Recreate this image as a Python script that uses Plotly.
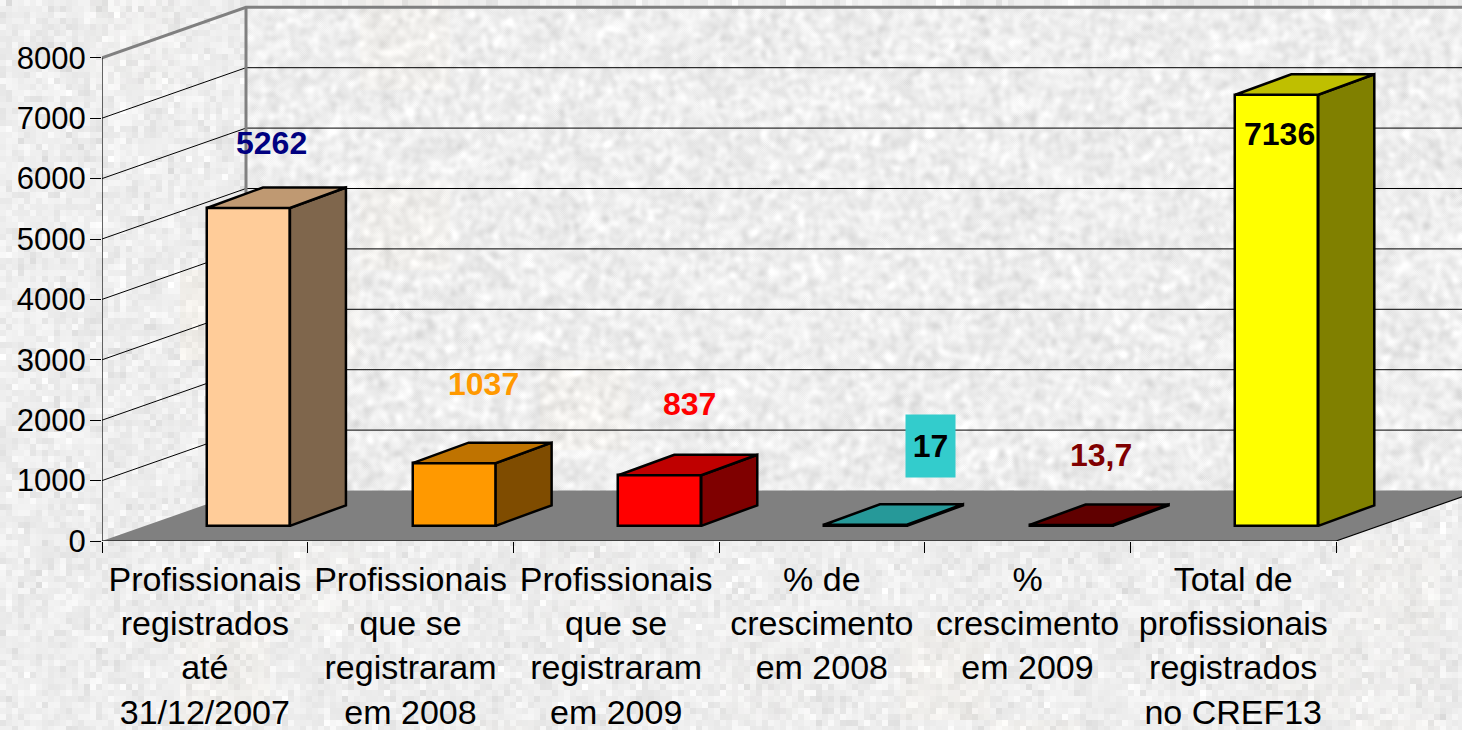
import base64, struct, zlib
import numpy as np
import plotly.graph_objects as go

# ---- data
categories = ["Profissionais<br>registrados<br>até<br>31/12/2007",
              "Profissionais<br>que se<br>registraram<br>em 2008",
              "Profissionais<br>que se<br>registraram<br>em 2009",
              "% de<br>crescimento<br>em 2008",
              "%<br>crescimento<br>em 2009",
              "Total de<br>profissionais<br>registrados<br>no CREF13"]
values = [5262, 1037, 837, 17, 13.7, 7136]
value_labels = ["5262", "1037", "837", "17", "13,7", "7136"]
y_ticks = [0, 1000, 2000, 3000, 4000, 5000, 6000, 7000, 8000]

# ---- styles
front_colors = ["#FFCC99", "#FF9900", "#FF0000", "#33CCCC", "#800000", "#FFFF00"]
side_colors = ["#7F664C", "#7F4C00", "#7F0000", "#199999", "#400000", "#808000"]
top_colors = ["#BF9972", "#BF7300", "#BF0000", "#269999", "#600000", "#BFBF00"]
label_colors = ["#000080", "#FF9900", "#FF0000", "#000000", "#800000", "#000000"]

W, H = 1462, 730
ML, MB = 102, 189
PX_PER_CAT = 205.67
PX_PER_VAL = 0.0604
WALL_DX, WALL_DY = 144 / PX_PER_CAT, 50.5 / PX_PER_VAL
BAR_DX, BAR_DY = 56 / PX_PER_CAT, 20.5 / PX_PER_VAL
BAR_W = 83 / PX_PER_CAT
BAR_CENTER = 0.712
BAR_BASE = 15.2 / PX_PER_VAL
# label offset from the front-top centre of each bar, in px
label_dx = [23, 29, 30, 65, 30, 3]
label_dy = [-65, -79, -71, -80, -70, 39]

X_MAX = (W - ML) / PX_PER_CAT
Y_MAX = (H - MB) / PX_PER_VAL


def texture():
    rng = np.random.default_rng(13)
    def blocks(size, h, w):
        a = rng.normal(0, 1, (h // size + 2, w // size + 2))
        return np.repeat(np.repeat(a, size, 0), size, 1)[:h, :w]
    img = 238 + 5.5 * blocks(6, H, W) + 2 * blocks(18, H, W)
    fine = rng.normal(0, 1, (H, W))
    for _ in range(3):
        fine = (np.roll(fine, 1, 0) + np.roll(fine, -1, 0) + np.roll(fine, 1, 1)
                + np.roll(fine, -1, 1) + fine) / 5
        fine = (np.roll(fine, 2, 0) + np.roll(fine, -2, 0) + np.roll(fine, 2, 1)
                + np.roll(fine, -2, 1) + fine) / 5
    fine = fine / fine.std()
    wall = 238 + 6 * fine
    img[8:490, 246:] = wall[8:490, 246:]
    warm = np.maximum(blocks(90, H, W) - 1.1, 0) * 2
    rgb = np.stack([img + warm, img + warm * 0.3, img - warm], axis=2)
    rgb = np.clip(rgb, 0, 255).astype(np.uint8)
    raw = b"".join(b"\x00" + rgb[r].tobytes() for r in range(H))
    def chunk(t, d):
        return struct.pack(">I", len(d)) + t + d + struct.pack(">I", zlib.crc32(t + d) & 0xffffffff)
    png = (b"\x89PNG\r\n\x1a\n" + chunk(b"IHDR", struct.pack(">IIBBBBB", W, H, 8, 2, 0, 0, 0))
           + chunk(b"IDAT", zlib.compress(raw, 9)) + chunk(b"IEND", b""))
    return "data:image/png;base64," + base64.b64encode(png).decode()


fig = go.Figure()

# front faces
fig.add_bar(x=[i + BAR_CENTER for i in range(len(values))], y=values, base=BAR_BASE,
            width=BAR_W, marker=dict(color=front_colors, line=dict(color="black", width=2.5)),
            showlegend=False, hoverinfo="skip")

# side and top faces
for i, v in enumerate(values):
    l = i + BAR_CENTER - BAR_W / 2
    r = i + BAR_CENTER + BAR_W / 2
    b = BAR_BASE
    t = BAR_BASE + v
    fig.add_scatter(x=[r, r + BAR_DX, r + BAR_DX, r, r], y=[b, b + BAR_DY, t + BAR_DY, t, b],
                    mode="lines", fill="toself", fillcolor=side_colors[i],
                    line=dict(color="black", width=2.5), showlegend=False, hoverinfo="skip")
    fig.add_scatter(x=[l, r, r + BAR_DX, l + BAR_DX, l], y=[t, t, t + BAR_DY, t + BAR_DY, t],
                    mode="lines", fill="toself", fillcolor=top_colors[i],
                    line=dict(color="black", width=2.5), showlegend=False, hoverinfo="skip")

# axis lines
fig.add_scatter(x=[0, 0], y=[0, y_ticks[-1]], mode="lines", line=dict(color="black", width=1.2),
                cliponaxis=False, showlegend=False, hoverinfo="skip")
fig.add_scatter(x=[0, len(values)], y=[0, 0], mode="lines", line=dict(color="black", width=1.2),
                cliponaxis=False, showlegend=False, hoverinfo="skip")

# walls, floor, gridlines
shapes = []
n = len(values)
shapes.append(dict(type="path", layer="below", fillcolor="#808080", line=dict(width=0),
                   path=f"M0,0 L{n},0 L{n + WALL_DX},{WALL_DY} L{WALL_DX},{WALL_DY} Z"))
shapes.append(dict(type="line", layer="below", x0=n, y0=0, x1=n + WALL_DX, y1=WALL_DY,
                   line=dict(color="black", width=1.2)))
for v in y_ticks[1:-1]:
    shapes.append(dict(type="path", layer="below", line=dict(color="black", width=1),
                       path=f"M0,{v} L{WALL_DX},{v + WALL_DY} L{n + WALL_DX},{v + WALL_DY}"))
top = y_ticks[-1]
shapes.append(dict(type="path", layer="below", line=dict(color="#808080", width=3),
                   path=f"M0,{top} L{WALL_DX},{top + WALL_DY} L{n + WALL_DX},{top + WALL_DY}"))
shapes.append(dict(type="line", layer="below", x0=WALL_DX, y0=WALL_DY, x1=WALL_DX, y1=top + WALL_DY,
                   line=dict(color="#808080", width=3)))

# value labels
annotations = []
for i, v in enumerate(values):
    a = dict(x=i + BAR_CENTER + label_dx[i] / PX_PER_CAT,
             y=BAR_BASE + v - label_dy[i] / PX_PER_VAL,
             xref="x", yref="y", text=f"<b>{value_labels[i]}</b>", showarrow=False,
             font=dict(family="Liberation Sans", size=32, color=label_colors[i]))
    if value_labels[i] == "17":
        a.update(bgcolor="#33CCCC", width=47, height=60, yshift=-1)
    annotations.append(a)

fig.update_layout(
    width=W, height=H, margin=dict(l=ML, r=0, t=0, b=MB, pad=0),
    paper_bgcolor="rgba(0,0,0,0)", plot_bgcolor="rgba(0,0,0,0)",
    font=dict(family="Liberation Sans", color="black"),
    bargap=0, showlegend=False, shapes=shapes, annotations=annotations,
    images=[dict(source=texture(), xref="paper", yref="paper",
                 x=-ML / (W - ML), y=1, sizex=W / (W - ML), sizey=H / (H - MB),
                 xanchor="left", yanchor="top", sizing="stretch", layer="below")],
    xaxis=dict(range=[0, X_MAX], showgrid=False, zeroline=False, showline=False,
               tickmode="array", tickvals=[i + 0.5 for i in range(n)], ticktext=categories,
               ticks="", tickfont=dict(size=34), tickangle=0, ticklabelstandoff=15,
               minor=dict(tickmode="array", tickvals=list(range(n + 1)), ticks="outside",
                          ticklen=11, tickcolor="black", tickwidth=1, showgrid=False)),
    yaxis=dict(range=[0, Y_MAX], showgrid=False, zeroline=False, showline=False,
               tickmode="array", tickvals=y_ticks, ticks="outside", ticklen=11,
               tickcolor="black", tickwidth=1, tickfont=dict(size=31), ticklabelstandoff=-2),
)

fig.write_html("out.html", post_script="document.body.style.margin='0';document.body.style.overflow='hidden';",
               config=dict(displayModeBar=False))
